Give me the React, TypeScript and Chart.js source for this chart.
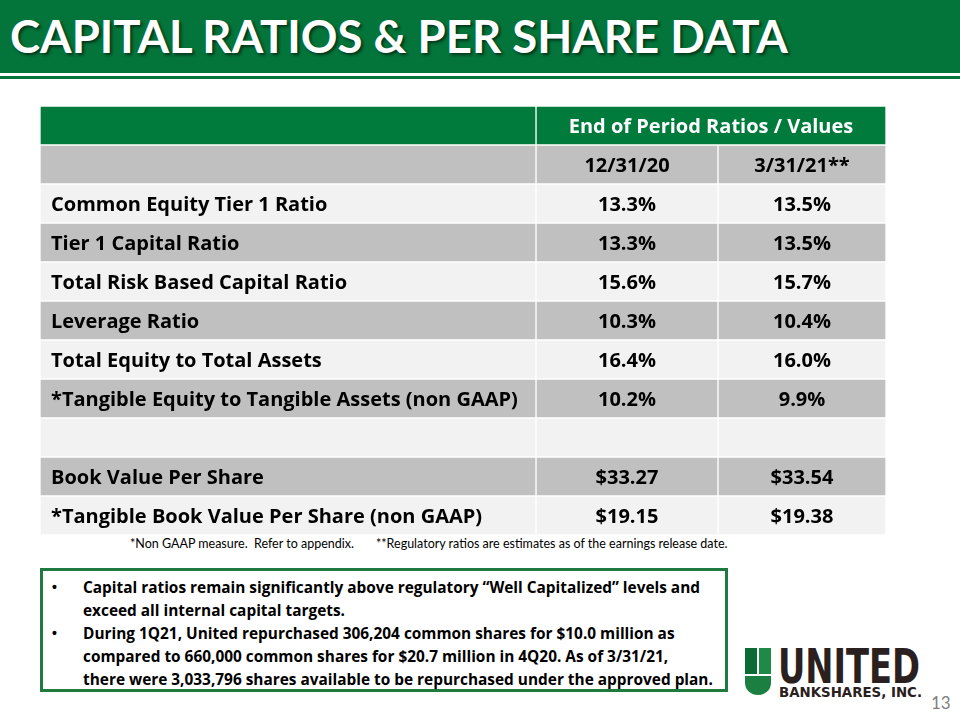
import React, { useEffect, useRef } from 'react';
import { Chart, registerables } from 'chart.js';

Chart.register(...registerables);

// ---------- data ----------
const TITLE = 'CAPITAL RATIOS & PER SHARE DATA';
const HEADER = 'End of Period Ratios / Values';
const PERIODS = ['12/31/20', '3/31/21**'];
const RATIO_NAMES = [
  'Common Equity Tier 1 Ratio',
  'Tier 1 Capital Ratio',
  'Total Risk Based Capital Ratio',
  'Leverage Ratio',
  'Total Equity to Total Assets',
  '*Tangible Equity to Tangible Assets (non GAAP)',
];
const RATIOS_DEC20 = [13.3, 13.3, 15.6, 10.3, 16.4, 10.2];
const RATIOS_MAR21 = [13.5, 13.5, 15.7, 10.4, 16.0, 9.9];
const PER_SHARE_NAMES = ['Book Value Per Share', '*Tangible Book Value Per Share (non GAAP)'];
const PER_SHARE_DEC20 = [33.27, 19.15];
const PER_SHARE_MAR21 = [33.54, 19.38];
const FOOTNOTES = [
  '*Non GAAP measure.  Refer to appendix.',
  '**Regulatory ratios are estimates as of the earnings release date.',
];
const BULLET_LINES = [
  { bullet: true, text: 'Capital ratios remain significantly above regulatory \u201cWell Capitalized\u201d levels and' },
  { bullet: false, text: 'exceed all internal capital targets.' },
  { bullet: true, text: 'During 1Q21, United repurchased 306,204 common shares for $10.0 million as' },
  { bullet: false, text: 'compared to 660,000 common shares for $20.7 million in 4Q20. As of 3/31/21,' },
  { bullet: false, text: 'there were 3,033,796 shares available to be repurchased under the approved plan.' },
];
const PAGE_NUMBER = '13';

// ---------- layout / style ----------
const TITLE_FONT = 'Lato, "Open Sans", sans-serif';
const FONT = '"Open Sans", Lato, sans-serif';
const TABLE_FONT_SIZE = 20;
const GREEN_TITLE = '#03743A';
const GREEN_HEAD = '#017B3C';
const GRAY = '#C0C0C0';
const LIGHT = '#F2F2F2';
const TABLE_W = 846;
const TABLE_H = 429;
const COL_EDGES = [0, 496, 678, TABLE_W];

type Row = { label: string; kind: 'head1' | 'head2' | 'body'; cells: string[] };

const ROWS: Row[] = [
  { label: '', kind: 'head1', cells: [HEADER] },
  { label: '', kind: 'head2', cells: PERIODS },
  ...RATIO_NAMES.map((n, i) => ({
    label: n,
    kind: 'body' as const,
    cells: [RATIOS_DEC20[i].toFixed(1) + '%', RATIOS_MAR21[i].toFixed(1) + '%'],
  })),
  { label: '', kind: 'body', cells: ['', ''] },
  ...PER_SHARE_NAMES.map((n, i) => ({
    label: n,
    kind: 'body' as const,
    cells: ['$' + PER_SHARE_DEC20[i].toFixed(2), '$' + PER_SHARE_MAR21[i].toFixed(2)],
  })),
];

const cellTextPlugin = {
  id: 'cellText',
  afterDatasetsDraw(chart: any) {
    const ctx = chart.ctx;
    ctx.save();
    ctx.textAlign = 'center';
    ctx.textBaseline = 'middle';
    for (let d = 1; d <= 2; d++) {
      const meta = chart.getDatasetMeta(d);
      meta.data.forEach((el: any, i: number) => {
        const text = ROWS[i].cells[d - 1];
        if (!text) return;
        const { x, base, y } = el.getProps(['x', 'base', 'y'], true);
        const head = ROWS[i].kind === 'head1';
        ctx.font = `bold ${TABLE_FONT_SIZE}px ${FONT}`;
        ctx.fillStyle = head ? '#FFFFFF' : '#000000';
        ctx.fillText(text, (x + base) / 2, y + 2);
      });
    }
    ctx.restore();
  },
};

function TableChart() {
  const ref = useRef<HTMLCanvasElement | null>(null);
  useEffect(() => {
    if (!ref.current) return;
    const fill = ROWS.map((r, i) => (r.kind === 'head1' ? GREEN_HEAD : i % 2 === 1 ? GRAY : LIGHT));
    const common = {
      backgroundColor: fill,
      borderColor: '#FFFFFF',
      borderWidth: 1,
      borderSkipped: false,
      barPercentage: 1,
      categoryPercentage: 1,
    };
    const chart = new Chart(ref.current, {
      type: 'bar',
      data: {
        labels: ROWS.map((r) => r.label),
        datasets: [
          { ...common, label: 'Measure', data: ROWS.map(() => [COL_EDGES[0], COL_EDGES[1]]) },
          {
            ...common,
            label: PERIODS[0],
            data: ROWS.map((r) => (r.kind === 'head1' ? [COL_EDGES[1], COL_EDGES[3]] : [COL_EDGES[1], COL_EDGES[2]])),
          },
          {
            ...common,
            label: PERIODS[1],
            data: ROWS.map((r) => (r.kind === 'head1' ? null : [COL_EDGES[2], COL_EDGES[3]])),
          },
        ] as any,
      },
      options: {
        indexAxis: 'y',
        animation: false,
        responsive: false,
        maintainAspectRatio: false,
        events: [],
        layout: { padding: 0 },
        plugins: { legend: { display: false }, tooltip: { enabled: false } },
        datasets: { bar: { grouped: false } } as any,
        scales: {
          x: { type: 'linear', min: 0, max: TABLE_W, display: false },
          y: {
            type: 'category',
            position: 'left',
            offset: true,
            grid: { display: false, drawTicks: false },
            border: { display: false },
            ticks: {
              mirror: true,
              padding: 11,
              labelOffset: 2,
              z: 1,
              autoSkip: false,
              color: '#000000',
              font: { family: FONT, size: TABLE_FONT_SIZE, weight: 'bold' },
            },
            afterFit: (s: any) => {
              s.paddingTop = 0;
              s.paddingBottom = 0;
              s.width = 0;
            },
          },
        },
      } as any,
      plugins: [cellTextPlugin],
    });
    return () => chart.destroy();
  }, []);
  return (
    <canvas
      ref={ref}
      width={TABLE_W}
      height={TABLE_H}
      style={{ position: 'absolute', left: 40, top: 106, width: TABLE_W, height: TABLE_H, display: 'block' }}
    />
  );
}

function Logo() {
  return (
    <svg
      width={200}
      height={70}
      viewBox="0 0 200 70"
      style={{ position: 'absolute', left: 740, top: 640 }}
    >
      <rect x={5} y={8} width={12} height={26} fill="#0B6B33" />
      <rect x={19} y={8} width={12} height={26} fill="#1E8A45" />
      <path d="M5,36 H31 V43 A13,12 0 0 1 5,43 Z" fill="#1A7F40" />
      <text
        x={38}
        y={43}
        fontFamily='"DejaVu Sans Condensed", "DejaVu Sans", sans-serif'
        fontWeight="bold"
        fontSize={48}
        fill="#2A2020"
        textLength={142}
        lengthAdjust="spacingAndGlyphs"
      >
        UNITED
      </text>
      <text
        x={39}
        y={57}
        fontFamily='"DejaVu Sans", sans-serif'
        fontWeight="bold"
        fontSize={13.5}
        fill="#2A2020"
        textLength={143}
        lengthAdjust="spacingAndGlyphs"
      >
        BANKSHARES, INC.
      </text>
    </svg>
  );
}

export default function App() {
  return (
    <div
      style={{
        position: 'absolute',
        left: 0,
        top: 0,
        width: 960,
        height: 720,
        background: '#FFFFFF',
        fontFamily: FONT,
        overflow: 'hidden',
      }}
    >
      <div style={{ position: 'absolute', left: 0, top: 0, width: 960, height: 73, background: GREEN_TITLE }} />
      <div style={{ position: 'absolute', left: 0, top: 76, width: 960, height: 3, background: GREEN_TITLE }} />
      <div
        style={{
          position: 'absolute',
          left: 10,
          top: 6,
          fontFamily: TITLE_FONT,
          fontSize: 45.5,
          fontWeight: 'bold',
          color: '#FFFFFF',
          lineHeight: '60px',
          whiteSpace: 'nowrap',
          textShadow: '2px 2px 3px rgba(0,0,0,0.55)',
        }}
      >
        {TITLE}
      </div>

      <TableChart />

      <div
        style={{ position: 'absolute', left: 130, top: 536, fontFamily: TITLE_FONT, fontSize: 12.5, lineHeight: '16px', whiteSpace: 'pre', color: '#000' }}
      >
        {FOOTNOTES[0]}
      </div>
      <div
        style={{ position: 'absolute', left: 376, top: 536, fontFamily: TITLE_FONT, fontSize: 12.5, lineHeight: '16px', whiteSpace: 'pre', color: '#000' }}
      >
        {FOOTNOTES[1]}
      </div>

      <div
        style={{
          position: 'absolute',
          left: 40,
          top: 568,
          width: 688,
          height: 124,
          boxSizing: 'border-box',
          border: '3px solid #1F7A40',
        }}
      />
      {BULLET_LINES.map((l, i) => (
        <React.Fragment key={i}>
          {l.bullet && (
            <div
              style={{
                position: 'absolute',
                left: 52,
                top: 576 + i * 23,
                fontFamily: '"Liberation Sans", sans-serif',
                fontSize: 14,
                lineHeight: '23px',
                fontWeight: 'bold',
              }}
            >
              {'\u2022'}
            </div>
          )}
          <div
            style={{
              position: 'absolute',
              left: 83,
              top: 576 + i * 23,
              fontSize: 15.4,
              lineHeight: '23px',
              fontWeight: 'bold',
              whiteSpace: 'nowrap',
              color: '#000',
            }}
          >
            {l.text}
          </div>
        </React.Fragment>
      ))}

      <Logo />
      <div style={{ position: 'absolute', left: 931, top: 693, fontFamily: TITLE_FONT, fontSize: 17, color: '#7F7F7F', lineHeight: '20px' }}>
        {PAGE_NUMBER}
      </div>
    </div>
  );
}
